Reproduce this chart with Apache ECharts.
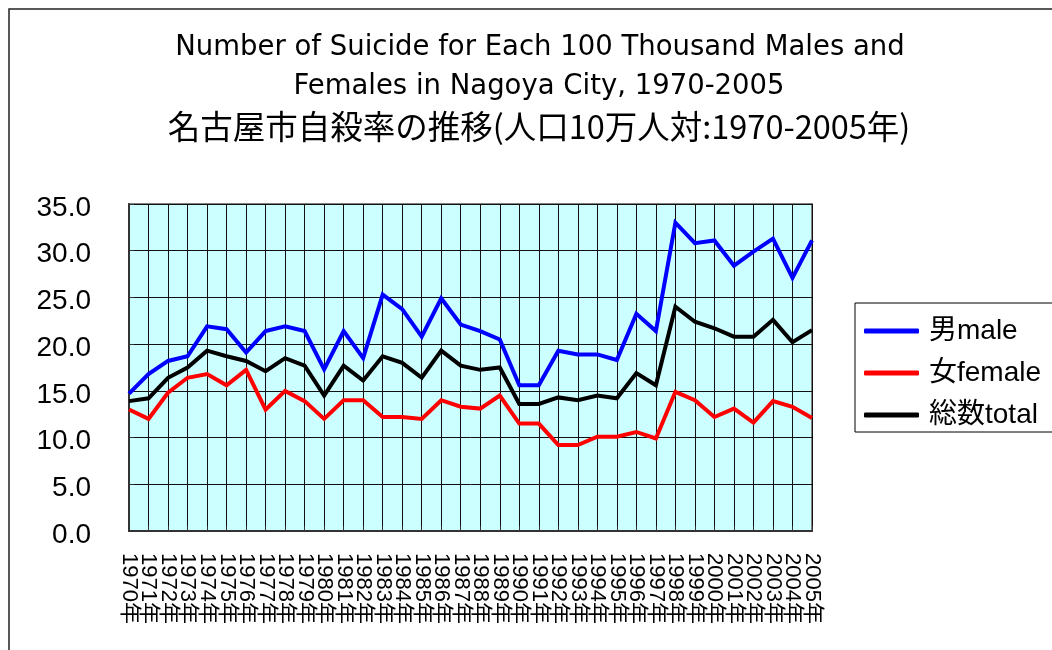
<!DOCTYPE html>
<html>
<head>
<meta charset="utf-8">
<script src="https://cdn.jsdelivr.net/npm/echarts@6/dist/echarts.min.js"></script>
<style>
html,body{margin:0;padding:0;background:#fff;}
#chart{width:1052px;height:650px;}
</style>
</head>
<body>
<div id="chart"></div>
<script>
var years = [];
for (var y = 1970; y <= 2005; y++) years.push(y + '年');

var titleLines = [
  'Number of Suicide for Each 100 Thousand Males and',
  'Females in Nagoya City, 1970-2005',
  '名古屋市自殺率の推移(人口10万人対:1970-2005年)'
];
var seriesNames = ['男male', '女female', '総数total'];

var male = [14.7,16.8,18.2,18.7,21.9,21.6,19.1,21.4,21.9,21.4,17.3,21.4,
            18.5,25.3,23.75,20.8,24.9,22.1,21.4,20.5,15.6,15.6,19.3,18.9,
            18.9,18.3,23.25,21.4,33.0,30.8,31.1,28.4,29.9,31.3,27.1,31.1];
var female = [13.0,12.0,14.8,16.4,16.8,15.6,17.25,13.0,15.0,13.9,12.0,14.0,
              14.0,12.2,12.2,12.0,14.0,13.3,13.1,14.5,11.5,11.5,9.2,9.2,
              10.1,10.1,10.6,9.9,14.9,14.0,12.2,13.1,11.6,13.9,13.3,12.1];
var total = [13.9,14.2,16.4,17.5,19.3,18.7,18.2,17.1,18.5,17.7,14.5,17.7,
             16.1,18.7,18.0,16.4,19.3,17.7,17.25,17.5,13.6,13.6,14.3,14.0,
             14.5,14.2,16.9,15.6,24.0,22.4,21.7,20.8,20.8,22.6,20.2,21.5];

var latin = '"DejaVu Sans", "Noto Sans CJK JP", sans-serif';
var mixed = '"Liberation Sans", "Noto Sans CJK JP", sans-serif';

var chart = echarts.init(document.getElementById('chart'), null, {renderer: 'canvas'});

function mkLine(name, data, color) {
  return {
    name: name, type: 'line', data: data, showSymbol: false, symbol: 'none',
    lineStyle: {color: color, width: 4, join: 'miter'},
    itemStyle: {color: color},
    animation: false
  };
}

chart.setOption({
  animation: false,
  backgroundColor: '#ffffff',
  graphic: [
    {type: 'rect', shape: {x: 9, y: 9, width: 1200, height: 800},
     style: {fill: 'none', stroke: '#222', lineWidth: 1.5}, z: -10},
    {type: 'text', x: 540, y: 48, style: {text: titleLines[0], font: '27.5px ' + latin, fill: '#000', textAlign: 'center', textVerticalAlign: 'middle'}},
    {type: 'text', x: 539, y: 87, style: {text: titleLines[1], font: '27.5px ' + latin, fill: '#000', textAlign: 'center', textVerticalAlign: 'middle'}},
    {type: 'text', x: 539, y: 127, style: {text: titleLines[2], font: '32.5px "Noto Sans CJK JP", sans-serif', fill: '#000', textAlign: 'center', textVerticalAlign: 'middle'}}
  ],
  legend: {
    orient: 'vertical',
    left: 855, top: 303,
    data: seriesNames,
    icon: 'roundRect',
    itemWidth: 55, itemHeight: 5,
    itemGap: 14,
    padding: [14, 30, 3, 9],
    borderColor: '#000', borderWidth: 1,
    backgroundColor: '#fff',
    textStyle: {fontSize: 28, fontFamily: mixed, color: '#000', lineHeight: 28, padding: [0, 0, 0, 5]}
  },
  grid: {
    left: 129, top: 204, right: 240, bottom: 119,
    show: true, backgroundColor: '#CCFFFF', borderColor: '#808080', borderWidth: 2
  },
  xAxis: {
    type: 'category', data: years, boundaryGap: false,
    axisLine: {show: true, lineStyle: {color: '#333', width: 2}},
    axisTick: {show: true, inside: true, length: 5, interval: 0, lineStyle: {color: '#333'}},
    splitLine: {show: true, interval: 0, lineStyle: {color: '#111', width: 1}},
    axisLabel: {interval: 0, rotate: -90, margin: 22, fontSize: 22, fontFamily: mixed, color: '#000'}
  },
  yAxis: {
    type: 'value', min: 0, max: 35, interval: 5,
    axisLine: {show: true, lineStyle: {color: '#333', width: 2}},
    axisTick: {show: true, inside: true, length: 5, lineStyle: {color: '#333'}},
    splitLine: {show: true, lineStyle: {color: '#111', width: 1}},
    axisLabel: {margin: 38, fontSize: 28, fontFamily: mixed, color: '#000',
                verticalAlign: 'top', lineHeight: 8,
                formatter: function (v) { return v.toFixed(1); }}
  },
  series: [
    mkLine(seriesNames[0], male, '#0000FF'),
    mkLine(seriesNames[1], female, '#FF0000'),
    mkLine(seriesNames[2], total, '#000000')
  ]
});
</script>
</body>
</html>
